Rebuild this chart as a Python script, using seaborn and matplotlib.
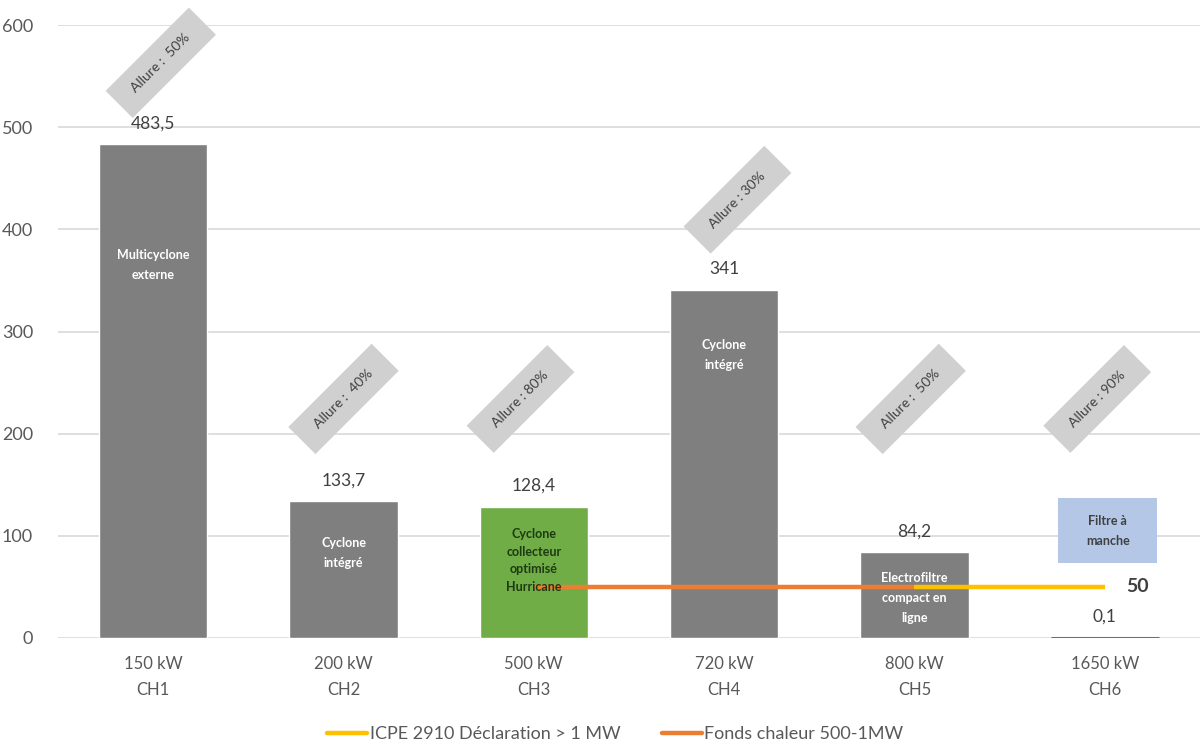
import numpy as np
import matplotlib
matplotlib.use("Agg")
import matplotlib.pyplot as plt
from matplotlib.lines import Line2D
from matplotlib.patches import Rectangle
import seaborn as sns

# ---- data ----
categories = ["150 kW\nCH1", "200 kW\nCH2", "500 kW\nCH3", "720 kW\nCH4", "800 kW\nCH5", "1650 kW\nCH6"]
values = [483.5, 133.7, 128.4, 341, 84.2, 0.1]
value_labels = ["483,5", "133,7", "128,4", "341", "84,2", "0,1"]
bar_colors = ["#7F7F7F", "#7F7F7F", "#70AD47", "#7F7F7F", "#7F7F7F", "#4472C4"]
inner_labels = ["Multicyclone\nexterne", "Cyclone\nintégré", "Cyclone\ncollecteur\noptimisé\nHurricane",
                "Cyclone\nintégré", "Electrofiltre\ncompact en\nligne", "Filtre à\nmanche"]
allure_labels = ["Allure :  50%", "Allure :  40%", "Allure : 80%", "Allure : 30%", "Allure :  50%", "Allure : 90%"]
icpe = [np.nan, np.nan, np.nan, np.nan, 50, 50]
fonds = [np.nan, np.nan, 50, 50, 50, np.nan]
legend_labels = ["ICPE 2910 Déclaration > 1 MW", "Fonds chaleur 500-1MW"]
yticks = [0, 100, 200, 300, 400, 500, 600]

# ---- layout (positions only) ----
inner_y = [365, 83, 76, 277, 39, 104.6]
allure_pos = [(0.04, 563), (0.0, 234), (-0.07, 234), (0.07, 429), (-0.02, 234), (-0.04, 234)]

sns.set_theme(style="white")
plt.rcParams["font.family"] = ["Lato", "DejaVu Sans"]
TXT = "#595959"

fig = plt.figure(figsize=(12.02, 7.45), dpi=100)
ax = fig.add_axes([58/1202, 107/745, 1 - 60/1202, (638-25)/745])

sns.barplot(x=categories, y=values, hue=categories, palette=bar_colors, width=0.57,
            legend=False, ax=ax, saturation=1, zorder=2)
# very small bar: outline so it shows as a thin line
for p in ax.patches:
    p.set_zorder(2)
    if p.get_height() < 1:
        p.set_edgecolor("#4472C4")
        p.set_facecolor("#4472C4")
        p.set_linewidth(2.2)
        p.set_zorder(3)

x = np.arange(len(categories))
ax.plot(x, fonds, color="#ED7D31", lw=3.2, zorder=3, solid_capstyle="butt")
ax.plot(x, icpe, color="#FFC000", lw=3.2, zorder=4, solid_capstyle="butt")
ax.text(x[-1] + 0.11, 50, "50", fontsize=14, color="#404040", ha="left", va="center", fontweight="bold")

ax.set_ylim(0, 600)
ax.set_xlim(-0.5, len(categories) - 0.5)
ax.set_yticks(yticks)
ax.grid(axis="y", color="#D9D9D9", lw=1.2, zorder=0)
ax.set_axisbelow(True)
for s in ax.spines.values():
    s.set_visible(False)
ax.tick_params(axis="y", length=0, pad=18, labelsize=13, labelcolor=TXT)
ax.tick_params(axis="x", length=0, pad=13, labelsize=12, labelcolor=TXT)
for lab in ax.get_xticklabels():
    lab.set_linespacing(1.8)

for i, v in enumerate(values):
    ax.annotate(value_labels[i], (i, v), xytext=(0, 15), textcoords="offset points",
                ha="center", va="center", fontsize=12.5, color="#404040")

for i, t in enumerate(inner_labels):
    if i == 2:
        ax.text(i, inner_y[i], t, ha="center", va="center", fontsize=9, fontweight="bold",
                color="#1E3A12", linespacing=1.55, zorder=5)
    elif i == 5:
        ax.add_patch(Rectangle((i + 0.015 - 0.26, 73), 0.52, 64, fc="#B4C7E7", ec="none", zorder=5))
        ax.text(i + 0.015, inner_y[i], t, ha="center", va="center", fontsize=9, fontweight="bold",
                color="#404040", linespacing=1.8, zorder=6)
    else:
        ax.text(i, inner_y[i], t, ha="center", va="center", fontsize=9, fontweight="bold",
                color="white", linespacing=1.8, zorder=5)

for i, t in enumerate(allure_labels):
    dx, yy = allure_pos[i]
    ax.text(i + dx, yy, "  " + t + "  ", rotation=45, rotation_mode="anchor",
            ha="center", va="center", fontsize=10, color="#404040", clip_on=False,
            bbox=dict(boxstyle="square,pad=0.95", fc="#D0D0D0", ec="none"), zorder=6)

ax.set_xlabel("")
ax.set_ylabel("")

handles = [Line2D([], [], color="#FFC000", lw=3.2), Line2D([], [], color="#ED7D31", lw=3.2)]
fig.legend(handles, legend_labels, loc="lower center", bbox_to_anchor=(0.512, -0.018), ncol=2,
           frameon=False, fontsize=13, labelcolor=TXT, handlelength=2.2, columnspacing=2.3,
           handletextpad=0.15)

fig.savefig("out.png", dpi=100)
